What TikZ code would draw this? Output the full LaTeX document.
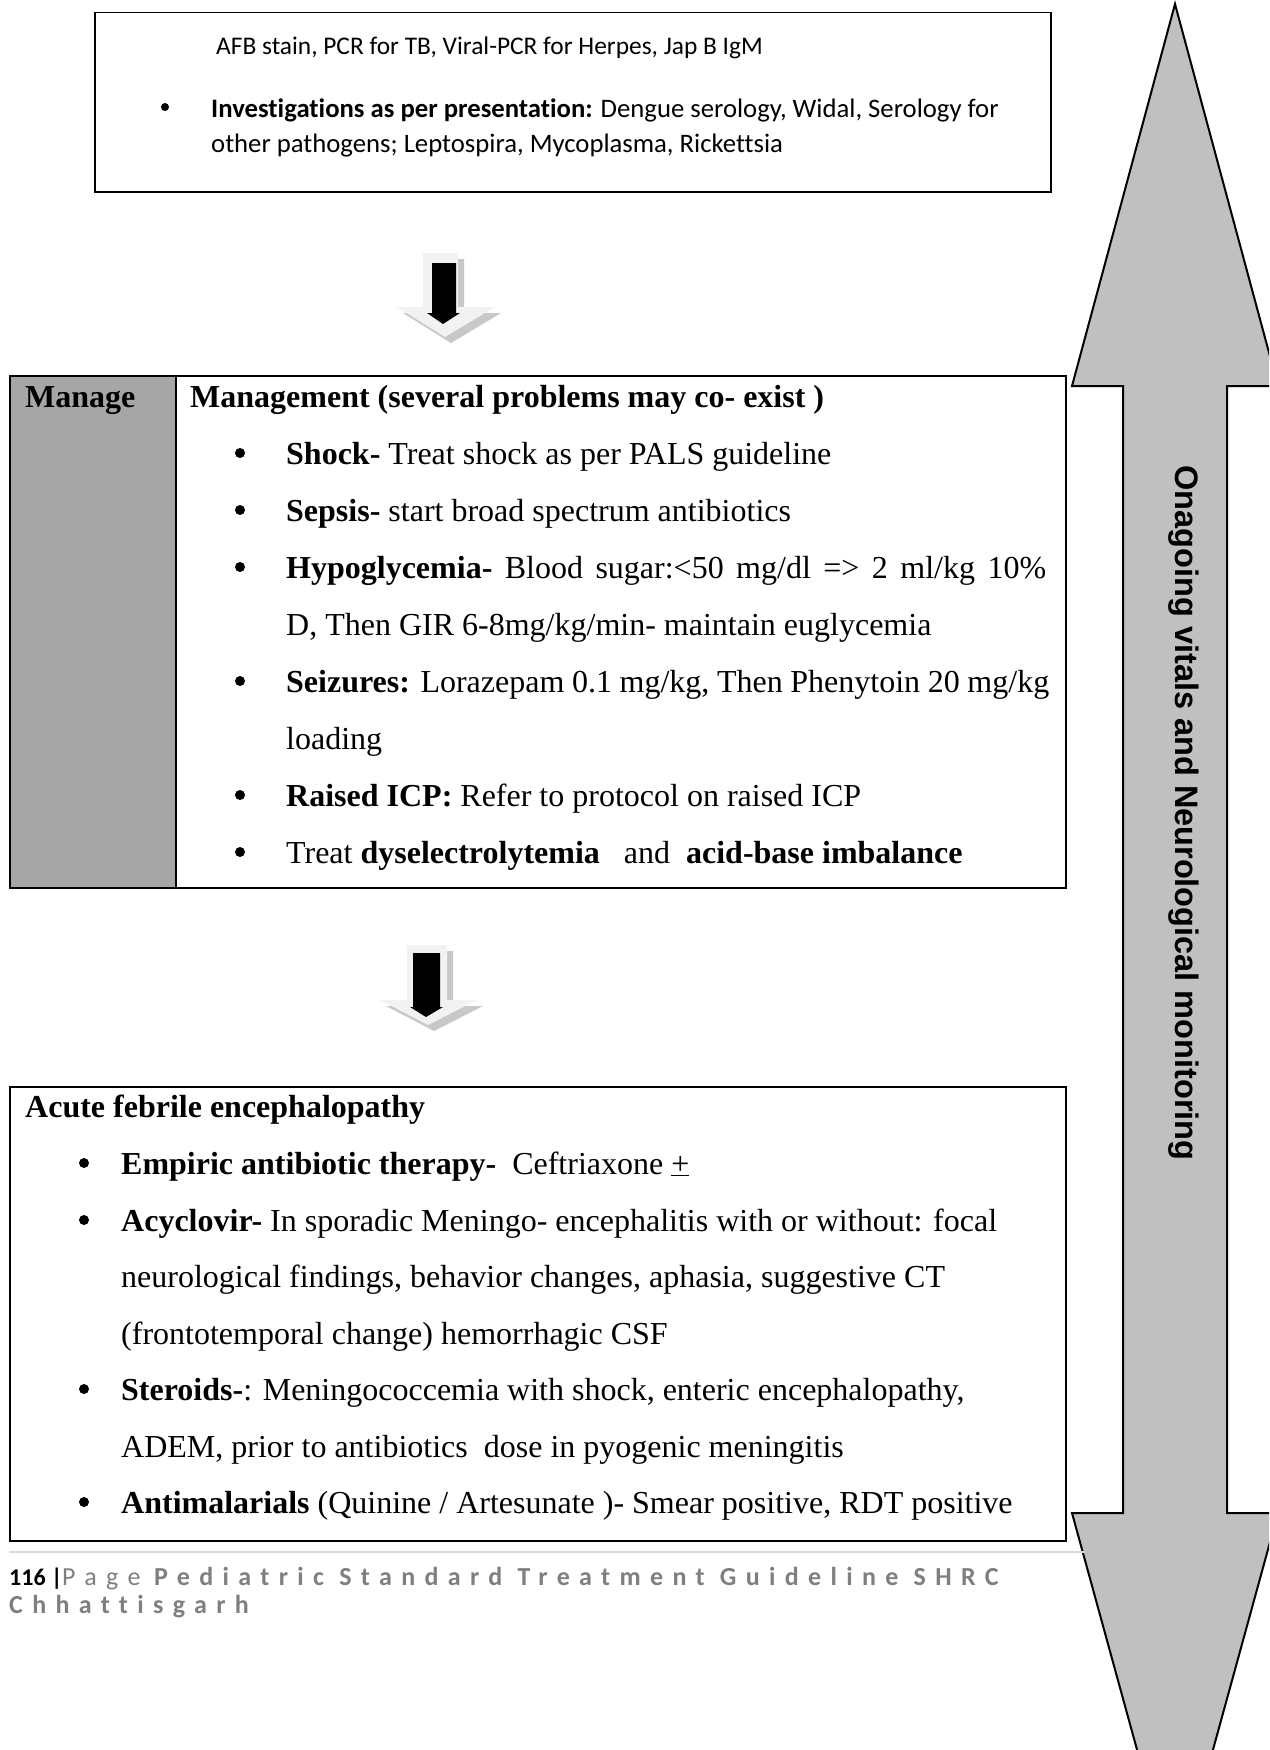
\documentclass[tikz,border=0pt]{standalone}
\usepackage{fontspec}
\setmainfont{Liberation Serif}
\newfontfamily\calfam[Ligatures=NoCommon]{Carlito}
\newfontfamily\arialfam{Liberation Sans}
\newfontfamily\trackfam[LetterSpace=36,Ligatures=NoCommon]{Carlito}
\definecolor{colgray}{HTML}{A6A6A6}
\definecolor{silverfill}{HTML}{C0C0C0}
\definecolor{footgray}{HTML}{7F7F7F}
\definecolor{ruleline}{HTML}{D9D9D9}
\definecolor{arrlight}{HTML}{F2F2F2}
\definecolor{arrshadow}{HTML}{C8C8C8}

\begin{document}
\begin{tikzpicture}[x=1pt,y=-1pt,
  bigtxt/.style={anchor=base west,inner sep=0pt,font=\fontsize{32}{38}\selectfont},
  dot/.style={circle,fill=black,inner sep=0pt,minimum size=10pt},
  smalldot/.style={circle,fill=black,inner sep=0pt,minimum size=8pt},
  caltxt/.style={anchor=base west,inner sep=0pt,font=\calfam\fontsize{26.7}{31}\selectfont},
  foottxt/.style={anchor=base west,inner sep=0pt,text=footgray,font=\trackfam\fontsize{26}{30}\selectfont},
  panel/.style={draw,line width=2pt,anchor=north west,inner sep=0pt},
]
\useasboundingbox (0,0) rectangle (1269,1750);
\clip (0,0) rectangle (1269,1750);

% ---- side arrow: ongoing monitoring ----
\draw[line width=2pt,fill=silverfill,line join=miter]
  (1175,4) -- (1278,386) -- (1227,386) -- (1227,1513) -- (1278,1513)
  -- (1175,1888) -- (1072,1513) -- (1123,1513) -- (1123,386) -- (1072,386) -- cycle;
\node[rotate=-90,inner sep=0pt,font=\arialfam\bfseries\fontsize{32.5}{38}\selectfont]
  (monitor) at (1184,813) {Onagoing vitals and Neurological monitoring};

% ---- investigations box ----
\node[panel,line width=1.5pt,minimum width=956pt,minimum height=179pt] (invest) at (94,12) {};
\node[caltxt,font=\calfam\fontsize{25.4}{31}\selectfont] (inv1) at (216,55) {AFB stain, PCR for TB, Viral-PCR for Herpes, Jap B IgM};
\node[smalldot] (invb) at (165,107) {};
\node[caltxt] (inv2) at (211,118) {\textbf{Investigations as per presentation:} Dengue serology, Widal, Serology for};
\node[caltxt] (inv3) at (211,153) {other pathogens; Leptospira, Mycoplasma, Rickettsia};

% ---- block arrow 1 ----
\fill[arrshadow] (429,259) -- (464,259) -- (464,313) -- (501,313) -- (451,343) -- (403,313) -- (429,313) -- cycle;
\fill[arrlight] (423,253) -- (458,253) -- (458,307) -- (495,307) -- (445,337) -- (397,307) -- (423,307) -- cycle;
\fill (432,263) -- (456,263) -- (456,313) -- (460,313) -- (443,324) -- (427,313) -- (432,313) -- cycle;

% ---- management box ----
\fill[colgray] (9,375) rectangle (176,887);
\node[panel,minimum width=1056pt,minimum height=512pt] (manage) at (9,375) {};
\draw[line width=2pt] (176,375) -- (176,887);
\node[bigtxt] (mhead) at (25,407) {\textbf{Manage}};
\node[bigtxt] (mtitle) at (190,407) {\textbf{Management (several problems may co- exist )}};
\foreach \y in {464,521,578,692,806,863} \node[dot] at (240,\y-11) {};
\node[bigtxt] (m1) at (286,464) {\textbf{Shock-} Treat shock as per PALS guideline};
\node[bigtxt] (m2) at (286,521) {\textbf{Sepsis-} start broad spectrum antibiotics};
\node[bigtxt] (m3) at (286,578) {\makebox[760pt][s]{\textbf{Hypoglycemia-} Blood sugar:<50 mg/dl => 2 ml/kg 10\%}};
\node[bigtxt] (m3b) at (286,635) {D, Then GIR 6-8mg/kg/min- maintain euglycemia};
\node[bigtxt] (m4) at (286,692) {\makebox[763pt][s]{\textbf{Seizures:} Lorazepam 0.1 mg/kg, Then Phenytoin 20 mg/kg}};
\node[bigtxt] (m4b) at (286,749) {loading};
\node[bigtxt] (m5) at (286,806) {\textbf{Raised ICP:} Refer to protocol on raised ICP};
\node[bigtxt] (m6) at (286,863) {Treat \textbf{dyselectrolytemia}\ \ \ and\ \ \textbf{acid-base imbalance}};

% ---- block arrow 2 ----
\fill[arrshadow] (413,951) -- (453,951) -- (453,1006) -- (483,1006) -- (434,1031) -- (386,1006) -- (413,1006) -- cycle;
\fill[arrlight] (407,945) -- (447,945) -- (447,1000) -- (477,1000) -- (428,1025) -- (380,1000) -- (407,1000) -- cycle;
\fill (413,953) -- (440,953) -- (440,1007) -- (443,1007) -- (426,1017) -- (410,1007) -- (413,1007) -- cycle;

% ---- encephalopathy box ----
\node[panel,minimum width=1056pt,minimum height=454pt] (afe) at (9,1086) {};
\node[bigtxt] (ahead) at (25,1117) {\textbf{Acute febrile encephalopathy}};
\foreach \y in {1174,1231,1400,1513} \node[dot] at (84,\y-11) {};
\node[bigtxt] (a1) at (121,1174) {\textbf{Empiric antibiotic therapy-}\ \ Ceftriaxone \underline{+}};
\node[bigtxt] (a2) at (121,1231) {\textbf{Acyclovir-} In sporadic Meningo- encephalitis with or without: focal};
\node[bigtxt] (a2b) at (121,1287) {neurological findings, behavior changes, aphasia, suggestive CT};
\node[bigtxt] (a2c) at (121,1344) {(frontotemporal change) hemorrhagic CSF};
\node[bigtxt] (a3) at (121,1400) {\textbf{Steroids-}: Meningococcemia with shock, enteric encephalopathy,};
\node[bigtxt] (a3b) at (121,1457) {ADEM, prior to antibiotics\ \ dose in pyogenic meningitis};
\node[bigtxt] (a4) at (121,1513) {\textbf{Antimalarials} (Quinine / Artesunate )- Smear positive, RDT positive};

% ---- page footer ----
\draw[ruleline,line width=2pt] (9,1552) -- (1085,1552);
\node[anchor=base west,inner sep=0pt,font=\calfam\bfseries\fontsize{24}{30}\selectfont] (pnum) at (9,1585) {116 |};
\node[foottxt] (pword) at (62,1585) {Page};
\node[foottxt,font=\trackfam\bfseries\fontsize{26}{30}\selectfont] (ptitle) at (154,1585) {Pediatric Standard Treatment Guideline SHRC};
\node[foottxt,font=\trackfam\bfseries\fontsize{26}{30}\selectfont] (pstate) at (9,1613) {Chhattisgarh};
\end{tikzpicture}
\end{document}
